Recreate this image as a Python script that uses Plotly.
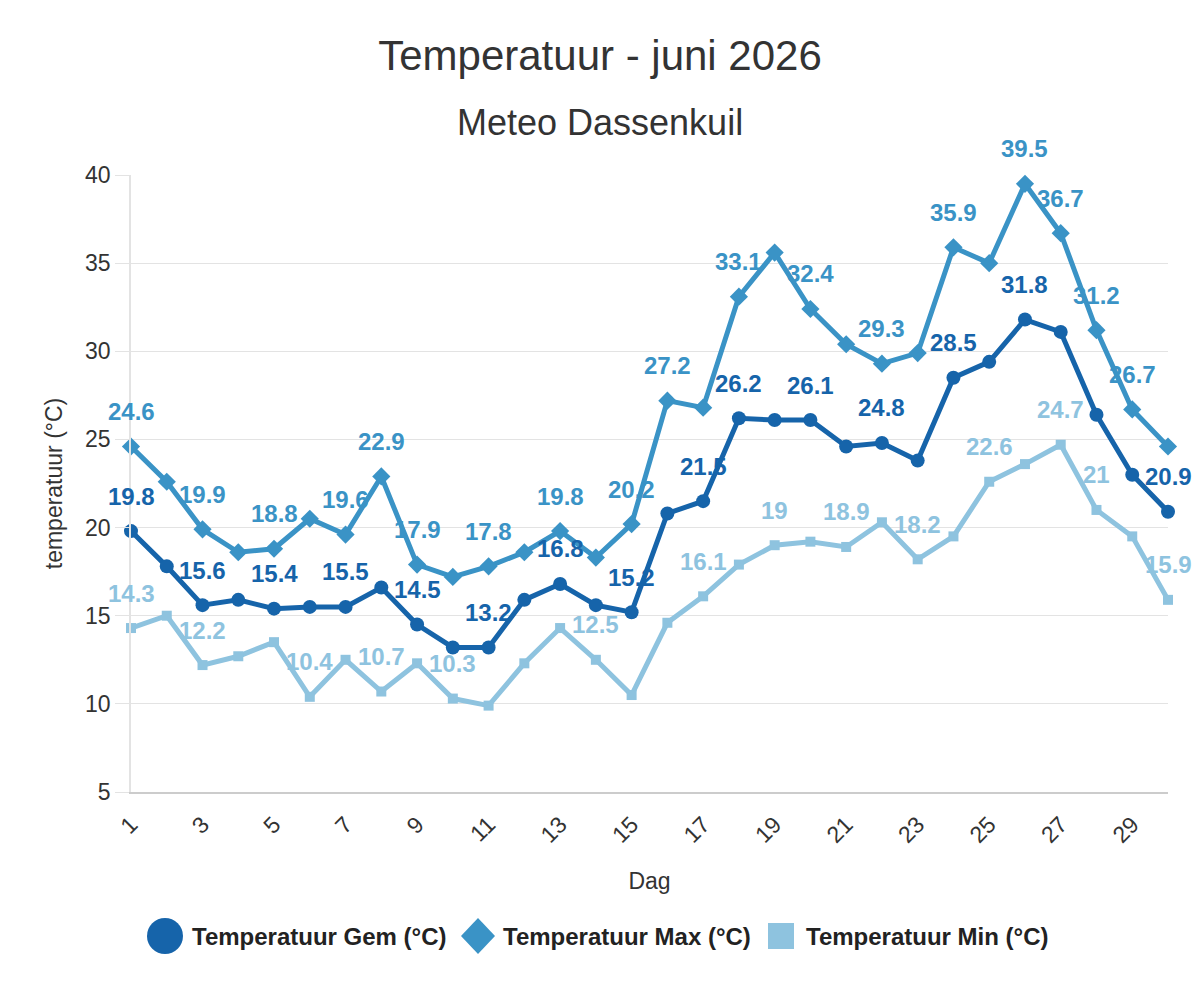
import plotly.graph_objects as go

days = list(range(1, 31))
temp_gem = [19.8, 17.8, 15.6, 15.9, 15.4, 15.5, 15.5, 16.6, 14.5, 13.2,
            13.2, 15.9, 16.8, 15.6, 15.2, 20.8, 21.5, 26.2, 26.1, 26.1,
            24.6, 24.8, 23.8, 28.5, 29.4, 31.8, 31.1, 26.4, 23.0, 20.9]
temp_max = [24.6, 22.6, 19.9, 18.6, 18.8, 20.5, 19.6, 22.9, 17.9, 17.2,
            17.8, 18.6, 19.8, 18.3, 20.2, 27.2, 26.8, 33.1, 35.6, 32.4,
            30.4, 29.3, 29.9, 35.9, 35.0, 39.5, 36.7, 31.2, 26.7, 24.6]
temp_min = [14.3, 15.0, 12.2, 12.7, 13.5, 10.4, 12.5, 10.7, 12.3, 10.3,
            9.9, 12.3, 14.3, 12.5, 10.5, 14.6, 16.1, 17.9, 19.0, 19.2,
            18.9, 20.3, 18.2, 19.5, 22.6, 23.6, 24.7, 21.0, 19.5, 15.9]

# days on which a data label is visible
label_days_gem = [1, 3, 5, 7, 9, 11, 13, 15, 17, 18, 20, 22, 24, 26, 30]
label_days_max = [1, 3, 5, 7, 8, 9, 11, 13, 15, 16, 18, 20, 22, 24, 26, 27, 28, 29]
label_days_min = [1, 3, 6, 8, 10, 14, 17, 19, 21, 23, 25, 27, 28, 30]

x_ticks = list(range(1, 30, 2))

names = ["Temperatuur Gem (°C)", "Temperatuur Max (°C)", "Temperatuur Min (°C)"]
colors = ["#1664aa", "#3a93c6", "#8ec3df"]
symbols = ["circle", "diamond", "square"]
msizes = [14, 14, 10]
FONT = "Liberation Sans, Arial, sans-serif"

fig = go.Figure()
series = [temp_gem, temp_max, temp_min]
label_days = [label_days_gem, label_days_max, label_days_min]
for vals, name, col, sym, ms in zip(series, names, colors, symbols, msizes):
    fig.add_trace(go.Scatter(
        x=days, y=vals, name=name, mode="lines+markers",
        line=dict(color=col, width=5),
        marker=dict(color=col, symbol=sym, size=ms),
        cliponaxis=False, showlegend=False,
    ))

annotations = []
for vals, ld, col in zip(series, label_days, colors):
    for d in ld:
        v = vals[d - 1]
        annotations.append(dict(
            x=d, y=v, xref="x", yref="y", text=f"{v:g}", showarrow=False,
            yshift=35, font=dict(family=FONT, size=24, color=col, weight="bold"),
        ))

# layout geometry
L, R, T, B = 131, 32, 175, 208
W, H = 1200, 1000
PW, PH = W - L - R, H - T - B


def px(xp):
    return (xp - L) / PW


def py(yp):
    return (H - B - yp) / PH


# subtitle
annotations.append(dict(
    x=px(600), y=py(123), xref="paper", yref="paper", text="Meteo Dassenkuil",
    showarrow=False, xanchor="center", yanchor="middle",
    font=dict(family=FONT, size=36, color="#333333"),
))

# custom legend
shapes = []
leg_y = 936
shapes.append(dict(type="circle", xref="paper", yref="paper",
                   x0=px(147), x1=px(183), y0=py(954), y1=py(918),
                   fillcolor=colors[0], line=dict(width=0)))
shapes.append(dict(type="path", xref="paper", yref="paper",
                   path=f"M {px(461)},{py(936)} L {px(478)},{py(918)} L {px(495)},{py(936)} L {px(478)},{py(954)} Z",
                   fillcolor=colors[1], line=dict(width=0)))
shapes.append(dict(type="rect", xref="paper", yref="paper",
                   x0=px(768), x1=px(794), y0=py(949), y1=py(923),
                   fillcolor=colors[2], line=dict(width=0)))
for name, xs in zip(names, [190, 501, 804]):
    annotations.append(dict(
        x=px(xs), y=py(leg_y), xref="paper", yref="paper", text=name,
        showarrow=False, xanchor="left", yanchor="middle",
        font=dict(family=FONT, size=24, color="#222222", weight="bold"),
    ))

fig.update_layout(
    width=W, height=H,
    margin=dict(l=L, r=R, t=T, b=B),
    paper_bgcolor="white", plot_bgcolor="white",
    font=dict(family=FONT, color="#333333"),
    title=dict(text="Temperatuur - juni 2026", x=0.5, xanchor="center",
               y=1 - 55 / H, yanchor="middle", yref="container",
               font=dict(family=FONT, size=42, color="#333333")),
    showlegend=False,
    annotations=annotations,
    shapes=shapes,
)
fig.update_xaxes(
    range=[1, 30], tickmode="array", tickvals=x_ticks,
    ticktext=[str(t) for t in x_ticks], tickangle=-45,
    tickfont=dict(family=FONT, size=23, color="#333333"),
    showgrid=False, zeroline=False, showline=True, linecolor="#cccccc", linewidth=2,
    ticks="outside", ticklen=8, tickcolor="rgba(0,0,0,0)",
    title=dict(text="Dag", font=dict(family=FONT, size=23, color="#333333"), standoff=26),
)
fig.update_yaxes(
    range=[5, 40], dtick=5, tick0=5,
    tickfont=dict(family=FONT, size=23, color="#333333"),
    showgrid=True, gridcolor="#e3e3e3", gridwidth=1, zeroline=False,
    showline=True, linecolor="#e3e3e3", linewidth=1.5,
    ticks="outside", ticklen=14, tickcolor="#e3e3e3",
    title=dict(text="temperatuur (°C)", font=dict(family=FONT, size=23, color="#333333"), standoff=16),
)

fig.write_html("out.html")
